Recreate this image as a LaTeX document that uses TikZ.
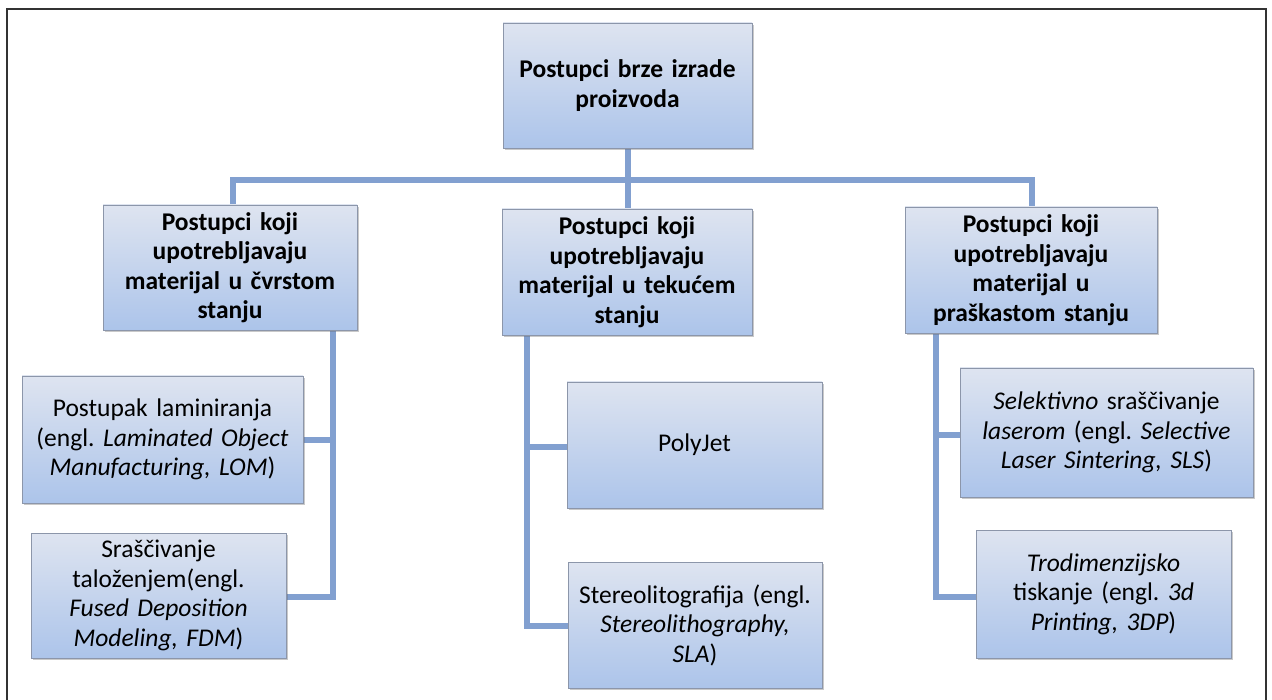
\documentclass[tikz,border=0pt]{standalone}
\usepackage{fontspec}
\setmainfont{Carlito}
\usetikzlibrary{shadows,calc}
\definecolor{linec}{RGB}{130,160,208}
\definecolor{topc}{RGB}{222,228,240}
\definecolor{botc}{RGB}{172,196,234}
\definecolor{bordc}{RGB}{140,150,170}
\frenchspacing
\begin{document}
\begin{tikzpicture}[x=1pt,y=-1pt,
  box/.style={draw=bordc, line width=0.8pt, top color=topc, bottom color=botc,
    drop shadow={shadow xshift=2pt, shadow yshift=-2pt, opacity=0.35, fill=black!60},
    align=center, inner sep=1pt,
    font=\fontsize{25.5}{29.5}\selectfont\frenchspacing},
  hbox/.style={box, font=\fontsize{25.5}{29.5}\selectfont\bfseries\frenchspacing},
  conn/.style={draw=linec, line width=6pt}]
\useasboundingbox (0,0) rectangle (1272,700);
\fill[white] (0,0) rectangle (1272,700);
\draw[black!80, line width=1.6pt] (7,712) -- (7,9) -- (1266,9) -- (1266,712);

% coordinates for connectors
\coordinate (busL) at (233,180);
\coordinate (busR) at (1032,180);
\coordinate (busM) at (628,180);
\coordinate (vL) at (333,590);
\coordinate (vM) at (527,626);
\coordinate (vR) at (936,597);

% connectors behind boxes
\draw[conn] (628,140) -- (busM) -- (628,215);
\draw[conn, line cap=rect] (233,215) -- (busL) -- (busR) -- (1032,215);
\draw[conn, line cap=rect] (333,320) -- (vL);
\draw[conn] (290,440) -- (333,440);
\draw[conn] (280,597) -- (333,597) -- (333,590);
\draw[conn, line cap=rect] (527,325) -- (527,626) -- (580,626);
\draw[conn] (527,447) -- (580,447);
\draw[conn, line cap=rect] (936,325) -- (936,597) -- (985,597);
\draw[conn] (936,435) -- (970,435);

% boxes
\node[hbox, minimum width=249pt, minimum height=125pt, text width=245pt] (top) at (627.5,85.5)
  {Postupci brze izrade\\proizvoda};
\node[hbox, minimum width=254pt, minimum height=125pt, text width=250pt] (l2a) at (230,267.5)
  {Postupci koji\\upotrebljavaju\\materijal u čvrstom\\stanju};
\node[hbox, minimum width=250pt, minimum height=126pt, text width=246pt] (l2b) at (627,272)
  {Postupci koji\\upotrebljavaju\\materijal u tekućem\\stanju};
\node[hbox, minimum width=252pt, minimum height=126pt, text width=248pt] (l2c) at (1031,270)
  {Postupci koji\\upotrebljavaju\\materijal u\\praškastom stanju};

\node[box, minimum width=281pt, minimum height=127pt, text width=277pt] (lom) at (162.5,439.5)
  {Postupak laminiranja\\(engl. \textit{Laminated Object}\\\textit{Manufacturing, LOM})};
\node[box, minimum width=255pt, minimum height=125pt, text width=251pt] (fdm) at (158.5,595.5)
  {Sraščivanje\\taloženjem(engl.\\\textit{Fused Deposition}\\\textit{Modeling, FDM})};
\node[box, minimum width=255pt, minimum height=126pt, text width=251pt] (pj) at (694.5,445)
  {PolyJet};
\node[box, minimum width=254pt, minimum height=126pt, text width=250pt] (sla) at (695,625)
  {Stereolitografija (engl.\\\textit{Stereolithography,}\\\textit{SLA})};
\node[box, minimum width=293pt, minimum height=129pt, text width=289pt] (sls) at (1106.5,432.5)
  {\textit{Selektivno} sraščivanje\\\textit{laserom} (engl. \textit{Selective}\\\textit{Laser Sintering, SLS})};
\node[box, minimum width=255pt, minimum height=128pt, text width=251pt] (tdp) at (1103.5,594)
  {\textit{Trodimenzijsko}\\tiskanje (engl. \textit{3d}\\\textit{Printing, 3DP})};
\end{tikzpicture}
\end{document}
